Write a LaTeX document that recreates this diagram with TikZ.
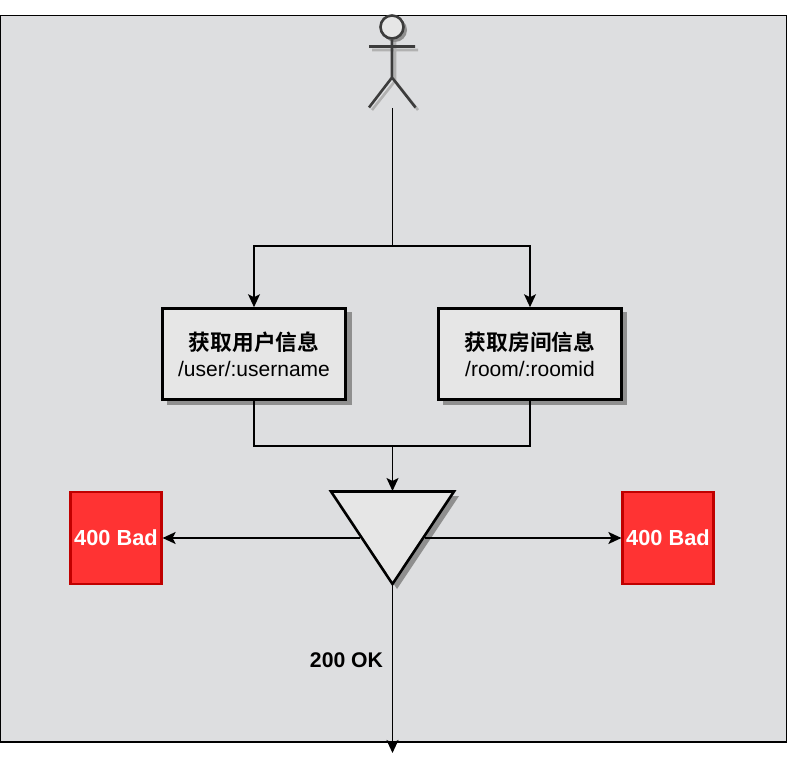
\documentclass[tikz,border=0pt]{standalone}
\usepackage{fontspec}
\setmainfont{Liberation Sans}
\newfontfamily\cjk{Noto Sans CJK SC}[BoldFont={Noto Sans CJK SC Bold}]
\usetikzlibrary{arrows.meta,shapes.geometric}
\definecolor{bgc}{HTML}{DDDEE0}
\definecolor{boxc}{HTML}{E6E6E6}
\definecolor{redf}{HTML}{FF3333}
\definecolor{redd}{HTML}{C00000}
\definecolor{shadowc}{HTML}{8F8F8F}
\definecolor{figc}{HTML}{3C3C3C}
\tikzset{
  flow/.style={draw=black,line width=1.4pt,-{Stealth[length=13pt,width=12pt,inset=3pt]}},
  plainline/.style={draw=black,line width=1.4pt},
  infobox/.style={draw=black,line width=2.6pt,fill=boxc,minimum width=183pt,minimum height=91pt,inner sep=0pt,align=center,font=\fontsize{21}{26}\selectfont},
  badbox/.style={draw=redd,line width=2.2pt,fill=redf,minimum width=91pt,minimum height=92pt,inner sep=0pt,text=white,font=\fontsize{21.8}{24}\selectfont\bfseries},
  boxshadow/.style={fill=shadowc,draw=none},
  figline/.style={draw=figc,line width=2.6pt},
  figshadow/.style={draw=shadowc!70,line width=2.6pt},
  lbl/.style={font=\fontsize{21.2}{24}\selectfont\bfseries,inner sep=0pt}
}
\begin{document}
\begin{tikzpicture}[x=1pt,y=-1pt]
\useasboundingbox (0,0) rectangle (787,783);
% background
\path[fill=bgc] (0,15) rectangle (787,742);
\draw[line width=1.2pt] (0.5,15.5) rectangle (786.5,742);
% actor shadow
\draw[figshadow] (395,41) -- (395,81) (372,50) -- (418,50) (372,110) -- (395,81) -- (418,110);
\fill[shadowc] (395,30) circle (12);
% actor
\node[circle,draw=figc,line width=2.6pt,fill=boxc,minimum size=23pt,inner sep=0pt] (head) at (392,27) {};
\draw[figline] (head.south) -- (392,77.5) (369,46.5) -- (415,46.5) (369,107.5) -- (392,77.5) -- (415.5,107.5);
\coordinate (actorfoot) at (392,108);
% boxes
\fill[boxshadow] (167,312) rectangle (352,405);
\fill[boxshadow] (443,312) rectangle (627,405);
\node[infobox] (user) at (254,354) {{\cjk\fontsize{21.7}{26}\selectfont\bfseries 获取用户信息}\\/user/:username};
\node[infobox] (room) at (530,354) {{\cjk\fontsize{21.7}{26}\selectfont\bfseries 获取房间信息}\\/room/:roomid};
% triangle
\fill[shadowc] (336,496) -- (459,496) -- (397,589) -- cycle;
\coordinate (triL) at (331,491.5);
\coordinate (triR) at (454,491.5);
\coordinate (triB) at (392.5,584);
\coordinate (triT) at (392.5,491);
\coordinate (triML) at (360,538);
\coordinate (triMR) at (425,538);
\draw[line width=2.6pt,fill=boxc,line join=miter] (triL) -- (triR) -- (triB) -- cycle;
% bad boxes
\node[badbox] (badl) at (116,538) {400 Bad};
\node[badbox] (badr) at (668,538) {400 Bad};
% connectors
\coordinate (split) at (392.5,246);
\coordinate (merge) at (392.5,446);
\coordinate (okend) at (392.5,753);
\draw[plainline] (actorfoot -| split) -- (split);
\draw[flow] (split) -| (user.north);
\draw[flow] (split) -| (room.north);
\draw[plainline] (user.south) |- (merge);
\draw[plainline] (room.south) |- (merge);
\draw[flow] (merge) -- (triT);
\draw[flow] (triML) -- (badl.east);
\draw[flow] (triMR) -- (badr.west);
\draw[flow] (triB) -- (okend);
\node[lbl,anchor=center] (ok) at (346.5,660.5) {200 OK};
\end{tikzpicture}
\end{document}
